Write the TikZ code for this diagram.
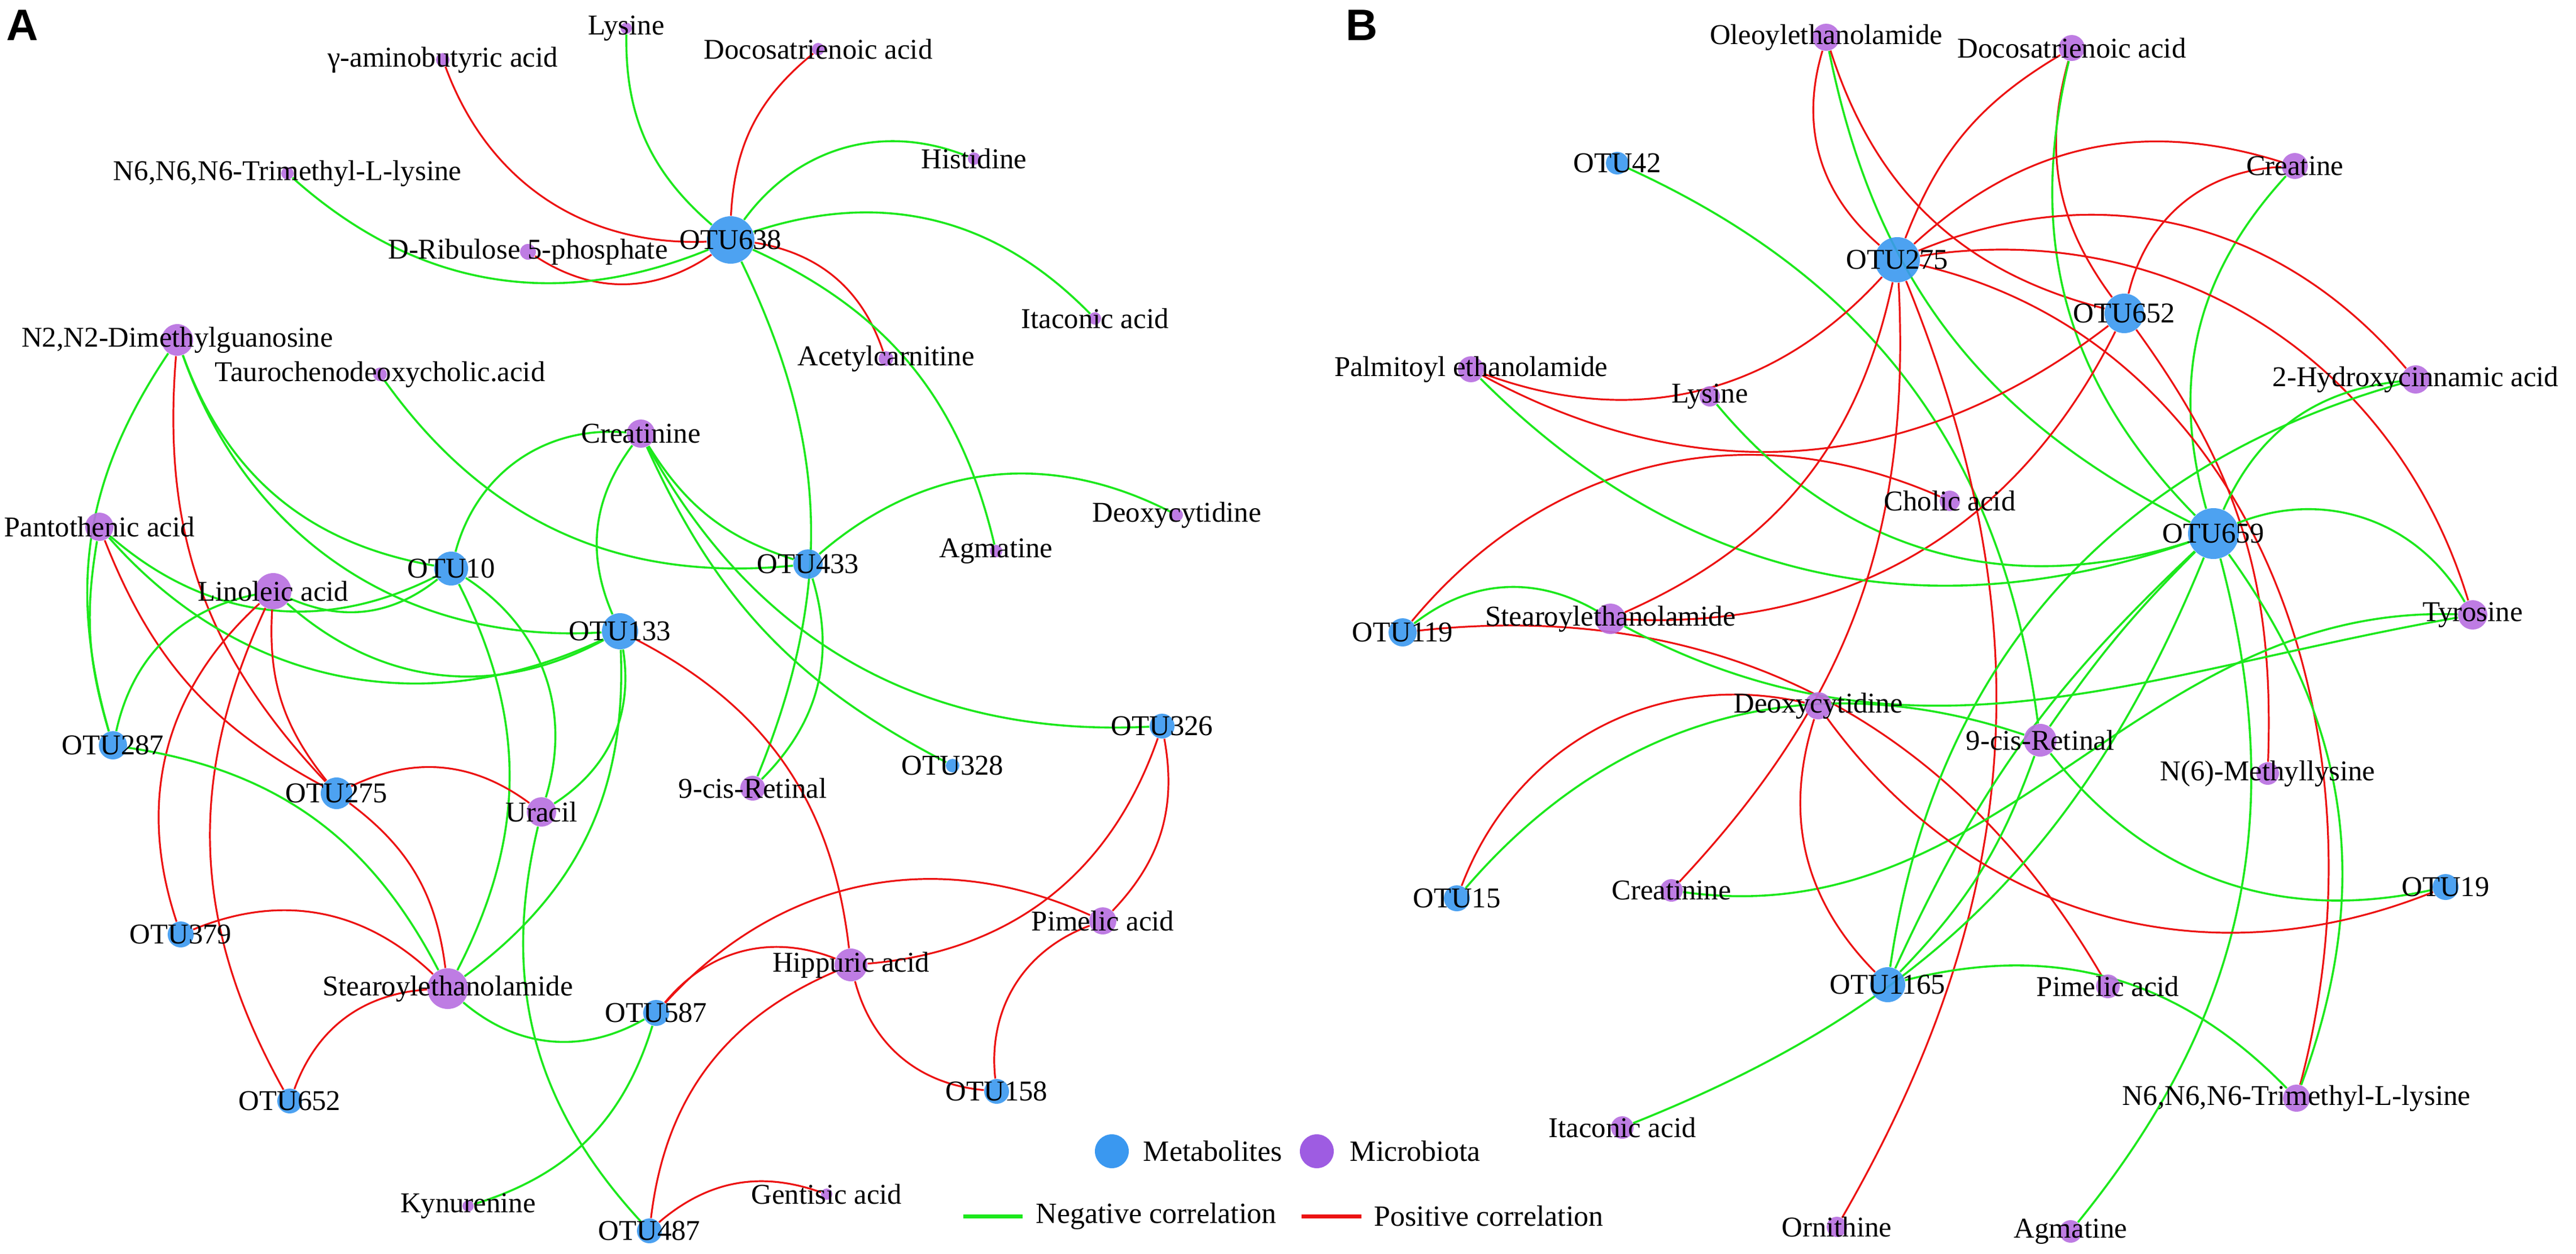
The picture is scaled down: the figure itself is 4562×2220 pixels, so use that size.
\documentclass[tikz,border=0pt]{standalone}
\usepackage{fontspec}
\setmainfont{Liberation Serif}
\setsansfont{Liberation Sans}
\pgfdeclarelayer{edges}
\pgfdeclarelayer{paper}
\pgfsetlayers{paper,edges,main}
\definecolor{mblue}{RGB}{58,152,240}
\definecolor{mpurp}{RGB}{184,110,224}
\definecolor{lpurp}{RGB}{158,92,226}
\definecolor{ngreen}{RGB}{28,232,28}
\definecolor{pred}{RGB}{236,18,18}
\tikzset{
  lbl/.style={font=\fontsize{12.7}{14}\selectfont, inner sep=0pt, text=black, text opacity=1, fill opacity=1},
  negline/.style={draw=ngreen, line width=0.9pt},
  posline/.style={draw=pred, line width=0.8pt},
  dot/.style={circle, inner sep=0pt, draw=none, fill opacity=0.9},
  legtext/.style={font=\fontsize{13}{15}\selectfont, inner sep=0pt, anchor=west},
  panel/.style={font=\sffamily\bfseries\fontsize{19.5}{20}\selectfont, inner sep=0pt}
}
\newcommand{\bnode}[5]{\node[dot,fill=mblue,minimum size={#4*0.5pt},label={[lbl]center:{#5}}] (#1) at (#2,-#3) {};}
\newcommand{\pnode}[5]{\node[dot,fill=mpurp,minimum size={#4*0.5pt},label={[lbl]center:{#5}}] (#1) at (#2,-#3) {};}
\begin{document}
\begin{tikzpicture}[x=0.25pt,y=0.25pt]
\useasboundingbox (0,0) rectangle (4562,-2220);
\begin{pgfonlayer}{paper}
\fill[white] (0,0) rectangle (4562,-2220);
\end{pgfonlayer}
\node[panel] (pA) at (40,-45) {A};
\node[panel] (pB) at (2412,-45) {B};
% ---------------- Panel A nodes
\bnode{OTU638}{1294}{425}{42}{OTU638}
\pnode{LysA}{1109}{50}{10}{Lysine}
\pnode{gaba}{784}{106}{12}{γ-aminobutyric acid}
\pnode{DocA}{1449}{87}{11}{Docosatrienoic acid}
\pnode{Hist}{1725}{281}{11}{Histidine}
\pnode{N6A}{509}{307}{11}{N6,N6,N6-Trimethyl-L-lysine}
\pnode{Dribu}{935}{446}{14}{D-Ribulose 5-phosphate}
\pnode{ItaA}{1939}{564}{11}{Itaconic acid}
\pnode{Acet}{1569}{635}{13}{Acetylcarnitine}
\pnode{N2}{314}{602}{28}{N2,N2-Dimethylguanosine}
\pnode{Tauro}{673}{663}{12}{Taurochenodeoxycholic.acid}
\pnode{CreaA}{1135}{768}{25}{Creatinine}
\pnode{Pant}{176}{933}{25}{Pantothenic acid}
\pnode{DeoA}{2084}{912}{11}{Deoxycytidine}
\pnode{AgmA}{1764}{976}{11}{Agmatine}
\bnode{OTU10}{799}{1007}{30}{OTU10}
\bnode{OTU433}{1431}{999}{26}{OTU433}
\pnode{Lino}{484}{1047}{32}{Linoleic acid}
\bnode{OTU133}{1098}{1118}{32}{OTU133}
\bnode{OTU326}{2058}{1286}{22}{OTU326}
\bnode{OTU287}{200}{1320}{25}{OTU287}
\bnode{OTU328}{1687}{1356}{12}{OTU328}
\pnode{RetA}{1333}{1396}{22}{9-cis-Retinal}
\bnode{OTU275A}{596}{1405}{28}{OTU275}
\pnode{Uracil}{959}{1438}{26}{Uracil}
\pnode{PimA}{1953}{1631}{24}{Pimelic acid}
\bnode{OTU379}{320}{1655}{23}{OTU379}
\pnode{Hipp}{1507}{1709}{29}{Hippuric acid}
\pnode{SteaA}{793}{1751}{36}{Stearoylethanolamide}
\bnode{OTU587}{1162}{1794}{23}{OTU587}
\bnode{OTU158}{1765}{1933}{22}{OTU158}
\bnode{OTU652A}{513}{1950}{22}{OTU652}
\pnode{Gent}{1464}{2115}{10}{Gentisic acid}
\pnode{Kyn}{829}{2136}{10}{Kynurenine}
\bnode{OTU487}{1150}{2180}{22}{OTU487}
% ---------------- Panel B nodes
\pnode{Ole}{3234}{66}{24}{Oleoylethanolamide}
\pnode{DocB}{3669}{85}{23}{Docosatrienoic acid}
\bnode{OTU42}{2864}{289}{20}{OTU42}
\pnode{Creat}{4064}{294}{23}{Creatine}
\bnode{OTU275B}{3360}{460}{40}{OTU275}
\bnode{OTU652B}{3762}{555}{35}{OTU652}
\pnode{Palm}{2605}{654}{23}{Palmitoyl ethanolamide}
\pnode{LysB}{3028}{702}{18}{Lysine}
\pnode{Hyd}{4278}{672}{25}{2-Hydroxycinnamic acid}
\pnode{Cholic}{3453}{887}{18}{Cholic acid}
\bnode{OTU659}{3920}{945}{45}{OTU659}
\bnode{OTU119}{2484}{1120}{25}{OTU119}
\pnode{SteaB}{2852}{1096}{27}{Stearoylethanolamide}
\pnode{Tyr}{4379}{1089}{26}{Tyrosine}
\pnode{DeoB}{3220}{1250}{24}{Deoxycytidine}
\pnode{RetB}{3613}{1311}{29}{9-cis-Retinal}
\pnode{N6Me}{4016}{1370}{20}{N(6)-Methyllysine}
\bnode{OTU15}{2580}{1591}{23}{OTU15}
\pnode{CreatB}{2960}{1577}{20}{Creatinine}
\bnode{OTU19}{4331}{1571}{23}{OTU19}
\bnode{OTU1165}{3343}{1744}{31}{OTU1165}
\pnode{PimB}{3733}{1747}{21}{Pimelic acid}
\pnode{N6B}{4067}{1945}{24}{N6,N6,N6-Trimethyl-L-lysine}
\pnode{ItaB}{2873}{1997}{20}{Itaconic acid}
\pnode{Orn}{3253}{2173}{18}{Ornithine}
\pnode{AgmB}{3667}{2181}{20}{Agmatine}
% ---------------- Legend
\node[dot,fill=mblue,fill opacity=1,minimum size=15pt] (legM) at (1969,-2039) {};
\node[legtext] (legMt) at (2024,-2039) {Metabolites};
\node[dot,fill=lpurp,fill opacity=1,minimum size=15pt] (legP) at (2332,-2039) {};
\node[legtext] (legPt) at (2390,-2039) {Microbiota};
\coordinate (ng1) at (1706,-2154);
\coordinate (ng2) at (1811,-2154);
\coordinate (ps1) at (2305,-2154);
\coordinate (ps2) at (2411,-2154);
\draw[ngreen,line width=1.75pt] (ng1) -- (ng2);
\draw[pred,line width=1.75pt] (ps1) -- (ps2);
\node[legtext] (legN) at (1834,-2154) {Negative correlation};
\node[legtext] (legPo) at (2433,-2154) {Positive correlation};
% ---------------- Edges
\begin{pgfonlayer}{edges}
% Panel A
\draw[posline] (gaba) to[bend right=36] (OTU638);
\draw[negline] (LysA) to[bend right=25] (OTU638);
\draw[posline] (DocA) to[bend right=24] (OTU638);
\draw[negline] (OTU638) to[bend left=38] (Hist);
\draw[negline] (OTU638) to[bend left=32] (ItaA);
\draw[posline] (OTU638) to[bend left=31] (Acet);
\draw[negline] (OTU638) to[bend left=26] (AgmA);
\draw[negline] (OTU638) to[bend left=24] (RetA);
\draw[posline] (Dribu) to[bend right=34] (OTU638);
\draw[negline] (N6A) to[bend right=32] (OTU638);
\draw[posline] (N2) to[bend right=24] (OTU275A);
\draw[negline] (N2) to[bend right=25] (OTU287);
\draw[negline] (Pant) to[bend right=13] (OTU287);
\draw[posline] (Pant) to[bend right=20] (OTU275A);
\draw[negline] (Pant) to[bend right=34] (OTU10);
\draw[negline] (Lino) to[bend right=31] (OTU10);
\draw[negline] (Pant) to[bend right=37] (OTU133);
\draw[negline] (Lino) to[bend right=35] (OTU133);
\draw[negline] (N2) to[bend right=30] (OTU10);
\draw[negline] (N2) to[bend right=37] (OTU133);
\draw[negline] (Lino) to[bend right=33] (OTU287);
\draw[posline] (Lino) to[bend right=21] (OTU275A);
\draw[posline] (Lino) to[bend right=33] (OTU379);
\draw[posline] (Lino) to[bend right=27] (OTU652A);
\draw[negline] (CreaA) to[bend right=40] (OTU10);
\draw[negline] (CreaA) to[bend right=30] (OTU133);
\draw[negline] (CreaA) to[bend right=20] (OTU433);
\draw[negline] (CreaA) to[bend right=32] (OTU326);
\draw[negline] (CreaA) to[bend right=19] (OTU328);
\draw[negline] (Tauro) to[bend right=30] (OTU433);
\draw[negline] (DeoA) to[bend right=34] (OTU433);
\draw[negline] (OTU433) to[bend left=31] (RetA);
\draw[negline] (OTU10) to[bend left=37] (Uracil);
\draw[negline] (OTU10) to[bend left=27] (SteaA);
\draw[negline] (OTU133) to[bend left=33] (Uracil);
\draw[negline] (OTU133) to[bend left=28] (SteaA);
\draw[posline] (OTU133) to[bend left=28] (Hipp);
\draw[posline] (OTU275A) to[bend left=31] (Uracil);
\draw[posline] (OTU275A) to[bend left=23] (SteaA);
\draw[negline] (OTU287) to[bend left=27] (SteaA);
\draw[posline] (OTU379) to[bend left=33] (SteaA);
\draw[posline] (OTU652A) to[bend left=33] (SteaA);
\draw[negline] (SteaA) to[bend right=35] (OTU587);
\draw[negline] (Uracil) to[bend right=28] (OTU487);
\draw[negline] (OTU587) to[bend left=28] (Kyn);
\draw[posline] (OTU587) to[bend left=36] (Hipp);
\draw[posline] (OTU587) to[bend left=36] (PimA);
\draw[posline] (Hipp) to[bend right=33] (OTU326);
\draw[posline] (Hipp) to[bend right=35] (OTU158);
\draw[posline] (Hipp) to[bend right=30] (OTU487);
\draw[posline] (PimA) to[bend right=27] (OTU326);
\draw[posline] (PimA) to[bend right=38] (OTU158);
\draw[posline] (OTU487) to[bend left=30] (Gent);
% Panel B
\draw[negline] (OTU42) to[bend left=29] (RetB);
\draw[posline] (Ole) to[bend right=33] (OTU275B);
\draw[negline] (Ole) to[bend right=26] (OTU659);
\draw[posline] (Ole) to[bend right=29] (OTU652B);
\draw[posline] (DocB) to[bend right=19] (OTU275B);
\draw[posline] (DocB) to[bend right=26] (OTU652B);
\draw[negline] (DocB) to[bend right=29] (OTU659);
\draw[posline] (OTU275B) to[bend left=30] (Creat);
\draw[posline] (OTU652B) to[bend left=37] (Creat);
\draw[negline] (Creat) to[bend right=29] (OTU659);
\draw[posline] (OTU275B) to[bend left=36] (Hyd);
\draw[posline] (OTU275B) to[bend left=41] (Tyr);
\draw[posline] (OTU652B) to[bend left=19] (N6Me);
\draw[posline] (OTU275B) to[out=-13,in=75] (N6B);
\draw[posline] (OTU275B) to[bend left=26] (Orn);
\draw[posline] (Palm) to[bend right=33] (OTU652B);
\draw[posline] (SteaB) to[bend right=33] (OTU652B);
\draw[posline] (OTU119) to[bend left=37] (Cholic);
\draw[posline] (OTU119) to[bend left=33] (PimB);
\draw[negline] (OTU119) to[bend left=34] (SteaB);
\draw[negline] (SteaB) to[out=-28,in=190] (Tyr);
\draw[posline] (Palm) to[bend right=34] (OTU275B);
\draw[negline] (Palm) to[bend right=32] (OTU659);
\draw[negline] (LysB) to[bend right=34] (OTU659);
\draw[negline] (OTU659) to[bend left=41] (Tyr);
\draw[negline] (Hyd) to[bend right=30] (OTU659);
\draw[negline] (Hyd) to[bend right=33] (OTU1165);
\draw[negline] (OTU659) to[bend right=5] (RetB);
\draw[negline] (OTU659) to[bend right=11] (OTU1165);
\draw[negline] (Tyr) to[out=178,in=-8] (CreatB);
\draw[negline] (ItaB) to[bend right=23] (OTU659);
\draw[negline] (OTU659) to[bend left=27] (AgmB);
\draw[negline] (OTU659) to[bend left=28] (N6B);
\draw[negline] (RetB) to[bend right=32] (OTU19);
\draw[negline] (RetB) to[bend left=12] (OTU1165);
\draw[negline] (OTU1165) to[bend left=30] (N6B);
\draw[posline] (DeoB) to[bend right=41] (OTU15);
\draw[negline] (RetB) to[bend right=34] (OTU15);
\draw[posline] (OTU275B) to[bend left=27] (SteaB);
\draw[posline] (OTU275B) to[bend left=23] (CreatB);
\draw[posline] (DeoB) to[bend right=31] (OTU1165);
\draw[posline] (DeoB) to[bend right=38] (OTU19);
\end{pgfonlayer}
\end{tikzpicture}
\end{document}
